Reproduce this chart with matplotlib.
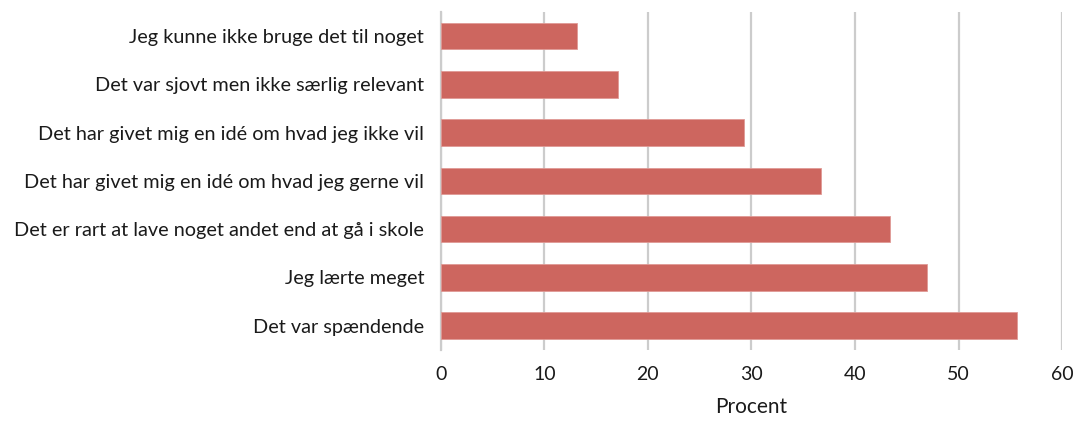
import matplotlib.pyplot as plt
import numpy as np

# survey answers, bottom to top as drawn
labels = ['Det var spændende',
          'Jeg lærte meget',
          'Det er rart at lave noget andet end at gå i skole',
          'Det har givet mig en idé om hvad jeg gerne vil',
          'Det har givet mig en idé om hvad jeg ikke vil',
          'Det var sjovt men ikke særlig relevant',
          'Jeg kunne ikke bruge det til noget']
values = [55.6, 47.0, 43.4, 36.7, 29.3, 17.1, 13.2]
xticks = [0, 10, 20, 30, 40, 50, 60]

plt.rcParams['font.family'] = ['Lato', 'DejaVu Sans']

fig = plt.figure(figsize=(10.75, 4.23), dpi=100)
ax = fig.add_axes([0.41, 0.173, 0.578, 0.799])

y = np.arange(len(labels))
ax.barh(y, values, height=0.55, color='#cd665f', edgecolor='#e09a95', linewidth=0.6, zorder=3)

ax.set_yticks(y)
ax.set_yticklabels(labels, fontsize=14.3, color='#1a1a1a')
ax.set_xticks(xticks)
ax.set_xticklabels([str(t) for t in xticks], fontsize=14, color='#1a1a1a')
ax.set_xlim(0, 60)
ax.set_ylim(-0.5, len(labels) - 0.5)
ax.tick_params(axis='y', length=0, pad=12)
ax.tick_params(axis='x', length=0, pad=12)

ax.grid(axis='x', color='#cccccc', lw=1.6, zorder=0)
for s in ['top', 'right', 'bottom']:
    ax.spines[s].set_visible(False)
ax.spines['left'].set_color('#cccccc')
ax.spines['left'].set_linewidth(1.6)

ax.set_xlabel('Procent', fontsize=15, color='#1a1a1a', labelpad=10)

plt.savefig('out.png', dpi=100)
